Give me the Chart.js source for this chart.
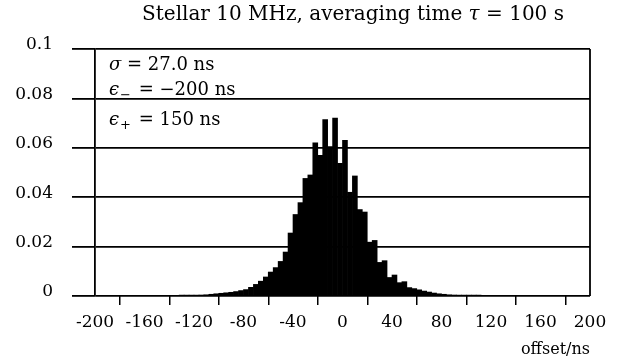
<!DOCTYPE html>
<html>
<head>
<meta charset="utf-8">
<script src="https://cdn.jsdelivr.net/npm/chart.js@4.4.0/dist/chart.umd.min.js"></script>
<style>
  html, body { margin: 0; padding: 0; background: #fff; }
  #wrap { width: 624px; height: 364px; }
</style>
</head>
<body>
<div id="wrap"><canvas id="histChart"></canvas></div>
<script>
// histogram of offsets, 4 ns bins from -200 to +200
const binStart = -200;
const binWidth = 4;
const binValues = [
  0, 0, 0, 0, 0, 0, 0, 0, 0, 0,
  0, 0, 0, 0, 0, 0, 0, 0.0002, 0.0002, 0.0003,
  0.0003, 0.0004, 0.0005, 0.0007, 0.0009, 0.0011, 0.0013, 0.0015, 0.0018, 0.0022,
  0.0026, 0.0035, 0.0047, 0.0060, 0.0077, 0.0097, 0.0115, 0.0140, 0.0178, 0.0255,
  0.0330, 0.0378, 0.0476, 0.0490, 0.0620, 0.0570, 0.0714, 0.0605, 0.0720, 0.0537,
  0.0630, 0.0420, 0.0486, 0.0350, 0.0340, 0.0218, 0.0225, 0.0136, 0.0143, 0.0075,
  0.0085, 0.0054, 0.0058, 0.0034, 0.0030, 0.0025, 0.0020, 0.0016, 0.0012, 0.0009,
  0.0007, 0.0005, 0.0004, 0.0003, 0.0003, 0.0002, 0.0002, 0.0001, 0, 0,
  0, 0, 0, 0, 0, 0, 0, 0, 0, 0,
  0, 0, 0, 0, 0, 0, 0, 0, 0, 0
];
const xTicks = [-200, -160, -120, -80, -40, 0, 40, 80, 120, 160, 200];
const yTicks = [0, 0.02, 0.04, 0.06, 0.08, 0.1];
const titleParts = ['Stellar 10 MHz, averaging time ', 'τ', ' = 100 s'];
const xTitle = 'offset/ns';
const statSymbols = ['σ', 'ϵ', 'ϵ'];
const statSubs = ['', '−', '+'];
const statValues = [' = 27.0 ns', ' = −200 ns', ' = 150 ns'];

const serif = '"DejaVu Serif", "Liberation Serif", serif';
Chart.defaults.font.family = serif;
Chart.defaults.font.size = 17;
Chart.defaults.color = '#000';

const points = binValues.map((v, i) => ({ x: binStart + binWidth * i + binWidth / 2, y: v }));

// title + the sigma/epsilon box + right frame line
const annotate = {
  id: 'annotate',
  afterDraw(chart) {
    const ctx = chart.ctx;
    const area = chart.chartArea;
    ctx.save();
    ctx.strokeStyle = '#000';
    ctx.lineWidth = 1.8;
    ctx.beginPath();
    ctx.moveTo(area.right, area.top);
    ctx.lineTo(area.right, area.bottom);
    ctx.stroke();

    ctx.fillStyle = '#000';
    ctx.textBaseline = 'alphabetic';
    ctx.textAlign = 'left';
    const normal = '20px ' + serif;
    const italic = 'italic 20px ' + serif;
    const fonts = [normal, italic, normal];
    let w = 0;
    titleParts.forEach((t, i) => { ctx.font = fonts[i]; w += ctx.measureText(t).width; });
    let x = 353 - w / 2;
    titleParts.forEach((t, i) => {
      ctx.font = fonts[i];
      ctx.fillText(t, x, 20);
      x += ctx.measureText(t).width;
    });

    const baselines = [70, 95, 125];
    statSymbols.forEach((sym, i) => {
      let px = area.left + 14;
      const by = baselines[i];
      ctx.font = 'italic 18px ' + serif;
      ctx.fillText(sym, px, by);
      px += ctx.measureText(sym).width;
      if (statSubs[i]) {
        ctx.font = '13px ' + serif;
        ctx.fillText(statSubs[i], px + 1, by + 4);
        px += ctx.measureText(statSubs[i]).width + 3;
      }
      ctx.font = '18px ' + serif;
      ctx.fillText(statValues[i], px, by);
    });
    ctx.restore();
  }
};

new Chart(document.getElementById('histChart'), {
  type: 'bar',
  data: {
    datasets: [{
      data: points,
      backgroundColor: '#000',
      borderWidth: 0,
      barPercentage: 1,
      categoryPercentage: 1
    }]
  },
  options: {
    responsive: true,
    maintainAspectRatio: false,
    animation: false,
    layout: { padding: { left: 0, right: 34, top: 49, bottom: 0 } },
    plugins: { legend: { display: false }, tooltip: { enabled: false } },
    scales: {
      x: {
        type: 'linear',
        min: -200,
        max: 200,
        offset: false,
        afterBuildTicks: s => { s.ticks = xTicks.map(v => ({ value: v })); },
        afterFit: s => { s.height = 68; },
        grid: { drawOnChartArea: false, drawTicks: true, tickLength: 9, color: '#000', lineWidth: 1.5 },
        border: { display: false },
        ticks: { padding: 7, maxRotation: 0, autoSkip: false, callback: v => String(v) },
        title: { display: true, text: xTitle, align: 'end', font: { size: 16 }, padding: { top: 0, bottom: 5 } }
      },
      y: {
        min: 0,
        max: 0.1,
        afterBuildTicks: s => { s.ticks = yTicks.map(v => ({ value: v })); },
        afterFit: s => { s.width = 95; },
        grid: { color: '#000', lineWidth: 1.8, tickLength: 23, drawTicks: true },
        border: { display: true, color: '#000', width: 1.8 },
        ticks: { padding: 19, labelOffset: -4, callback: v => String(v) }
      }
    }
  },
  plugins: [annotate]
});
</script>
</body>
</html>
